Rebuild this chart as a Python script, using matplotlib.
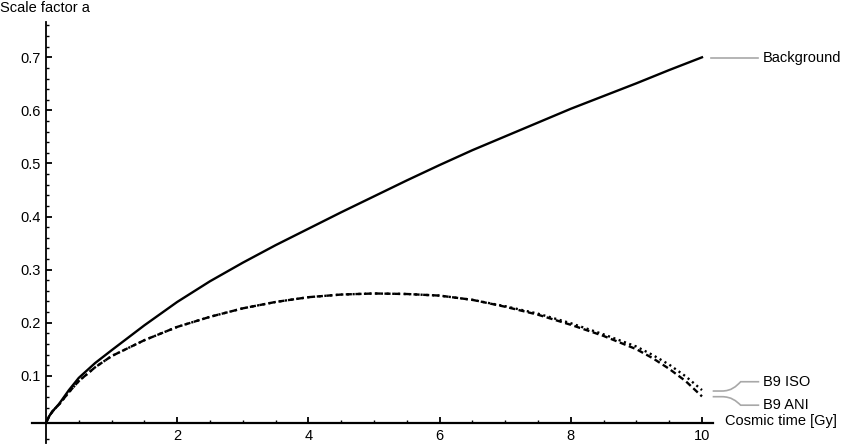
import numpy as np
import matplotlib.pyplot as plt
from matplotlib.path import Path
from matplotlib.patches import PathPatch
from matplotlib.ticker import FixedLocator

plt.rcParams['font.family'] = ['Liberation Sans', 'DejaVu Sans']
plt.rcParams['font.size'] = 10.5

# values
t_bg = [0, 0.05, 0.1, 0.2, 0.35, 0.5, 0.75, 1.0, 1.5, 2.0, 2.5, 3.0, 3.5, 4.0,
        4.5, 5.0, 5.5, 6.0, 6.5, 7.0, 7.5, 8.0, 8.5, 9.0, 9.5, 10.0]
a_bg = [0.011, 0.024, 0.033, 0.047, 0.073, 0.096, 0.124, 0.148, 0.195, 0.239,
        0.278, 0.313, 0.346, 0.377, 0.408, 0.438, 0.468, 0.497, 0.525, 0.551,
        0.577, 0.603, 0.627, 0.651, 0.676, 0.700]

t_b9 = [0, 0.05, 0.1, 0.2, 0.35, 0.5, 0.75, 1.0, 1.5, 2.0, 2.5, 3.0, 3.5, 4.0,
        4.5, 5.0, 5.5, 6.0, 6.5, 7.0, 7.5, 8.0, 8.5, 9.0, 9.25, 9.5, 9.75, 10.0]
a_iso = [0.011, 0.024, 0.033, 0.046, 0.069, 0.090, 0.116, 0.137, 0.167, 0.192,
         0.211, 0.227, 0.239, 0.248, 0.253, 0.255, 0.254, 0.251, 0.243, 0.231,
         0.217, 0.199, 0.178, 0.155, 0.139, 0.121, 0.099, 0.073]
a_ani = [0.011, 0.024, 0.033, 0.046, 0.069, 0.090, 0.116, 0.137, 0.167, 0.192,
         0.211, 0.227, 0.239, 0.248, 0.253, 0.255, 0.254, 0.251, 0.243, 0.230,
         0.215, 0.196, 0.175, 0.150, 0.133, 0.113, 0.090, 0.061]

xticks = [2, 4, 6, 8, 10]
yticks = [0.1, 0.2, 0.3, 0.4, 0.5, 0.6, 0.7]

fig = plt.figure(figsize=(8.64, 4.46), dpi=100)
ax = fig.add_axes([0, 0, 1, 1])
ax.set_xlim(-0.701, 12.47)
ax.set_ylim(-0.0324, 0.808)

ax.plot(t_bg, a_bg, color='black', lw=1.7)
ax.plot(t_b9, a_ani, color='black', lw=1.7, linestyle=(0, (2.6, 1.5)))
ax.plot(t_b9, a_iso, color='black', lw=1.7, linestyle=(0, (0.9, 1.5)))

# axes in Mathematica style
for s in ['top', 'right']:
    ax.spines[s].set_visible(False)
ax.spines['left'].set_position(('data', 0))
ax.spines['bottom'].set_position(('data', 0.011))
ax.spines['left'].set_bounds(-0.027, 0.767)
ax.spines['bottom'].set_bounds(-0.21, 10.17)
ax.spines['left'].set_linewidth(1.3)
ax.spines['bottom'].set_linewidth(1.6)

ax.xaxis.set_major_locator(FixedLocator(xticks))
ax.xaxis.set_minor_locator(FixedLocator([v for v in np.arange(0.5, 10.01, 0.5) if v % 2 != 0]))
ax.yaxis.set_major_locator(FixedLocator(yticks))
ax.yaxis.set_minor_locator(FixedLocator([-0.02] + [round(v, 2) for v in np.arange(0.04, 0.77, 0.02)
                                                 if round(v * 50) % 5 != 0]))
ax.set_xticklabels([str(v) for v in xticks])
ax.set_yticklabels(['%.1f' % v for v in yticks])
ax.tick_params(which='major', direction='in', length=4, width=1.3, pad=4)
ax.tick_params(which='minor', direction='in', length=2.5, width=1.0)

# axis labels
ax.text(0.0, 1 - 8 / 446, 'Scale factor a', transform=ax.transAxes, ha='left', va='center')
ax.text(725 / 864, 1 - 421.5 / 446, 'Cosmic time [Gy]', transform=ax.transAxes,
        ha='left', va='center')

# curve labels with leaders
lead = dict(color='#a8a8a8', lw=1.2, clip_on=False)
ax.plot([10.137, 10.854], [0.6987, 0.6987], **lead)
ax.text(10.93, 0.6987, 'Background', ha='left', va='center')

def leader(y0, y1):
    verts = [(10.163, y0), (10.30, y0), (10.45, y0), (10.52, (y0 + y1) / 2),
             (10.59, y1), (10.73, y1), (10.873, y1)]
    codes = [Path.MOVETO, Path.LINETO, Path.CURVE4, Path.CURVE4, Path.CURVE4,
             Path.LINETO, Path.LINETO]
    ax.add_patch(PathPatch(Path(verts, codes), fill=False, edgecolor='#a8a8a8',
                           lw=1.2, clip_on=False))

leader(0.0712, 0.0887)
ax.text(10.93, 0.0887, 'B9 ISO', ha='left', va='center')
leader(0.0605, 0.0445)
ax.text(10.93, 0.0445, 'B9 ANI', ha='left', va='center')

fig.savefig('out.png', dpi=100)
